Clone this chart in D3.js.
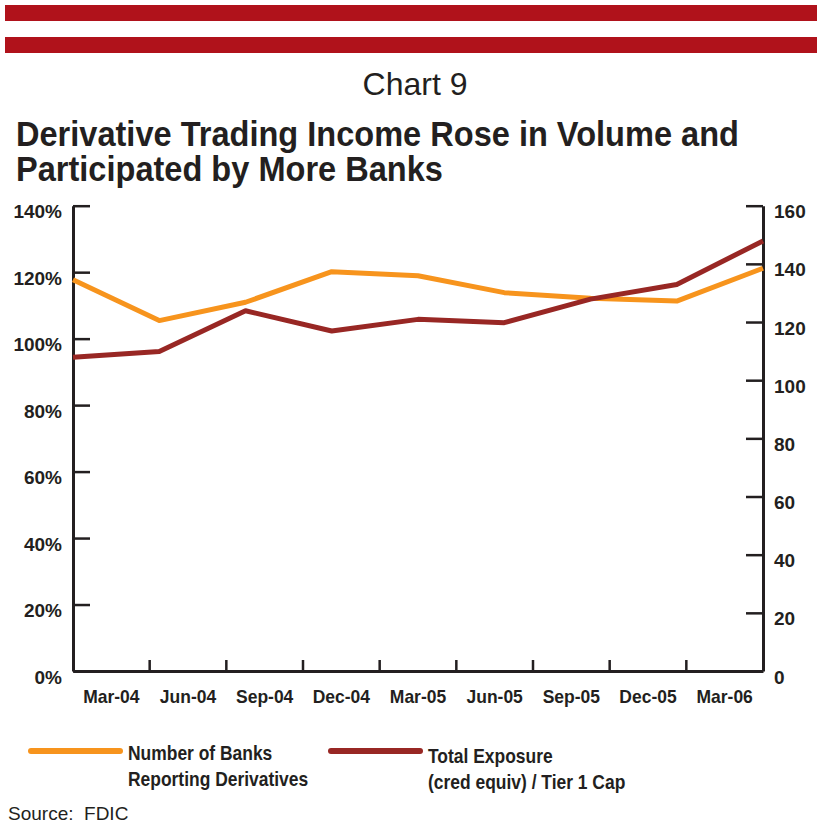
<!DOCTYPE html>
<html>
<head>
<meta charset="utf-8">
<script src="https://cdn.jsdelivr.net/npm/d3@7"></script>
<style>
  html, body { margin: 0; padding: 0; background: #fff; }
  svg { display: block; }
  text { font-family: "Liberation Sans", Arial, Helvetica, sans-serif; fill: #231F20; }
</style>
</head>
<body>
<svg id="chart" width="817" height="824"></svg>
<script>
// Quarter-end reporting dates
const categories = ["Mar-04", "Jun-04", "Sep-04", "Dec-04", "Mar-05", "Jun-05", "Sep-05", "Dec-05", "Mar-06"];
// Number of banks reporting derivatives (right axis)
const banksReporting = [134.5, 120.5, 126.8, 137.3, 135.9, 130.1, 128.2, 127.2, 138.5];
// Total exposure (credit equivalent) / Tier 1 capital, % (left axis)
const exposureRatio = [94.4, 96.1, 108.4, 102.3, 105.8, 104.8, 111.9, 116.3, 129.4];
// Axis tick values
const leftTicks = [0, 20, 40, 60, 80, 100, 120, 140];
const rightTicks = [0, 20, 40, 60, 80, 100, 120, 140, 160];
// Text
const chartNumber = "Chart 9";
const titleLines = ["Derivative Trading Income Rose in Volume and", "Participated by More Banks"];
const legendBanks = ["Number of Banks", "Reporting Derivatives"];
const legendExposure = ["Total Exposure", "(cred equiv) / Tier 1 Cap"];
const sourceNote = "Source:  FDIC";

const ORANGE = "#F7941D";
const DARKRED = "#982724";
const BANNER = "#B0121B";
const INK = "#231F20";

const svg = d3.select("#chart");

// squeeze a text element horizontally to mimic a condensed face
function condense(sel, k) {
  sel.each(function () {
    const w = this.getComputedTextLength();
    d3.select(this).attr("textLength", w * k).attr("lengthAdjust", "spacingAndGlyphs");
  });
}

// Banner stripes
svg.append("rect").attr("x", 5).attr("y", 5).attr("width", 812).attr("height", 16).attr("fill", BANNER);
svg.append("rect").attr("x", 5).attr("y", 37).attr("width", 812).attr("height", 16).attr("fill", BANNER);

// Chart number
svg.append("text").attr("x", 415).attr("y", 95).attr("text-anchor", "middle")
  .style("font-size", "32px").text(chartNumber);

// Title (one text block, one line per tspan)
const titleText = svg.append("text")
  .style("font-size", "35px").style("font-weight", "bold");
const titleSpans = titleText.selectAll("tspan").data(titleLines).join("tspan")
  .attr("x", 16).attr("y", (d, i) => 146 + i * 35).text(d => d);
condense(titleSpans, 0.93);

// Plot area
const plotLeft = 73, plotRight = 763, plotTop = 205.7, plotBottom = 671;

const xBand = d3.scaleBand().domain(categories).range([plotLeft, plotRight]);
const xPoint = d3.scalePoint().domain(categories).range([plotLeft, plotRight]);
const yLeft = d3.scaleLinear().domain([0, 140]).range([plotBottom, plotTop]);
const yRight = d3.scaleLinear().domain([0, 160]).range([plotBottom, plotTop]);

// Left axis
const gL = svg.append("g").attr("transform", `translate(${plotLeft},0)`)
  .call(d3.axisLeft(yLeft).tickValues(leftTicks).tickFormat(d => d + "%")
    .tickSizeInner(-17).tickSizeOuter(0).tickPadding(11));
// Right axis
const gR = svg.append("g").attr("transform", `translate(${plotRight},0)`)
  .call(d3.axisRight(yRight).tickValues(rightTicks).tickFormat(d3.format("d"))
    .tickSizeInner(-17).tickSizeOuter(0).tickPadding(11));
// Bottom axis: labels centred in each quarter
const gB = svg.append("g").attr("transform", `translate(0,${plotBottom})`)
  .call(d3.axisBottom(xBand).tickSize(0).tickSizeOuter(0).tickPadding(19));
// Quarter boundary ticks
svg.append("g").selectAll("line").data(categories.slice(1)).join("line")
  .attr("x1", d => xBand(d)).attr("x2", d => xBand(d))
  .attr("y1", plotBottom).attr("y2", plotBottom - 11)
  .attr("stroke", INK).attr("stroke-width", 2.5);

[gL, gR, gB].forEach(g => {
  g.select(".domain").attr("stroke", INK).attr("stroke-width", 3);
  g.selectAll(".tick line").attr("stroke", INK).attr("stroke-width", 2.5);
  g.selectAll(".tick text").attr("fill", INK)
    .style("font-family", '"Liberation Sans", Arial, sans-serif')
    .style("font-size", "19px").style("font-weight", "bold");
});
gL.selectAll(".tick text").attr("y", 6);
gR.selectAll(".tick text").attr("y", 6);
condense(gB.selectAll(".tick text"), 0.92);

// Series lines
const lineBanks = d3.line().x((d, i) => xPoint(categories[i])).y(d => yRight(d));
const lineExposure = d3.line().x((d, i) => xPoint(categories[i])).y(d => yLeft(d));

svg.append("path").datum(banksReporting).attr("d", lineBanks)
  .attr("fill", "none").attr("stroke", ORANGE).attr("stroke-width", 5)
  .attr("stroke-linejoin", "round");
svg.append("path").datum(exposureRatio).attr("d", lineExposure)
  .attr("fill", "none").attr("stroke", DARKRED).attr("stroke-width", 5)
  .attr("stroke-linejoin", "round");

// Legend
const legend = svg.append("g");
legend.append("line").attr("x1", 31).attr("x2", 120).attr("y1", 751).attr("y2", 751)
  .attr("stroke", ORANGE).attr("stroke-width", 6).attr("stroke-linecap", "round");
legend.append("line").attr("x1", 331).attr("x2", 420).attr("y1", 751).attr("y2", 751)
  .attr("stroke", DARKRED).attr("stroke-width", 6).attr("stroke-linecap", "round");
const lt1 = legend.selectAll("text.banks").data(legendBanks).join("text").attr("class", "banks")
  .attr("x", 128).attr("y", (d, i) => 760 + i * 26)
  .style("font-size", "21px").style("font-weight", "bold").text(d => d);
const lt2 = legend.selectAll("text.expo").data(legendExposure).join("text").attr("class", "expo")
  .attr("x", 428).attr("y", (d, i) => 763 + i * 26)
  .style("font-size", "21px").style("font-weight", "bold").text(d => d);
condense(lt1, 0.83);
condense(lt2, 0.83);

// Source note
svg.append("text").attr("x", 8).attr("y", 820)
  .style("font-size", "19px").style("white-space", "pre").attr("fill", "#333")
  .text(sourceNote);
</script>
</body>
</html>
